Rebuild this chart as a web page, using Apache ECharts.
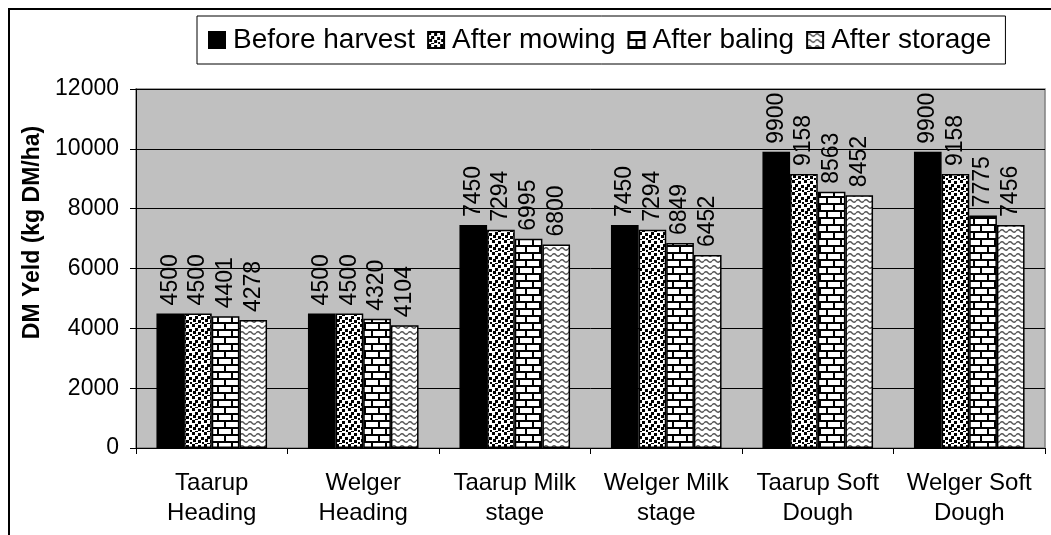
<!DOCTYPE html>
<html>
<head>
<meta charset="utf-8">
<script src="https://cdn.jsdelivr.net/npm/echarts@6/dist/echarts.min.js"></script>
<style>
html,body{margin:0;padding:0;background:#fff;}
#chart{width:1051px;height:535px;}
</style>
</head>
<body>
<div id="chart"></div>
<script>
const categories = ['Taarup\nHeading','Welger\nHeading','Taarup Milk\nstage','Welger Milk\nstage','Taarup Soft\nDough','Welger Soft\nDough'];
const seriesNames = ['Before harvest','After mowing','After baling','After storage'];
const beforeHarvest = [4500,4500,7450,7450,9900,9900];
const afterMowing = [4500,4500,7294,7294,9158,9158];
const afterBaling = [4401,4320,6995,6849,8563,7775];
const afterStorage = [4278,4104,6800,6452,8452,7456];
const yTicks = [0,2000,4000,6000,8000,10000,12000];

function mk(w,h,draw){const c=document.createElement('canvas');c.width=w;c.height=h;const g=c.getContext('2d');g.fillStyle='#fff';g.fillRect(0,0,w,h);draw(g);return c;}
const dots = mk(12,12,g=>{g.fillStyle='#000';
  [[0,0],[6,1],[3,4],[9,5],[1,7],[6,8],[10,10],[3,11]].forEach(p=>g.fillRect(p[0],p[1],3,3));});
const brick = mk(14,14,g=>{g.fillStyle='#000';
  g.fillRect(0,0,14,2);g.fillRect(0,7,14,2);g.fillRect(0,0,2,7);g.fillRect(7,7,2,7);});
const wave = mk(8,6,g=>{g.strokeStyle='#555';g.lineWidth=1.3;g.beginPath();
  g.moveTo(0,3);g.quadraticCurveTo(2,0.5,4,3);g.quadraticCurveTo(6,5.5,8,3);g.stroke();});

const fills = ['#000',{image:dots,repeat:'repeat'},{image:brick,repeat:'repeat'},{image:wave,repeat:'repeat'}];
const datas = [beforeHarvest,afterMowing,afterBaling,afterStorage];
const font = 'Liberation Sans, Arial, sans-serif';

const chart = echarts.init(document.getElementById('chart'),null,{renderer:'canvas'});
chart.setOption({
  animation:false,
  backgroundColor:'#fff',
  graphic:[{type:'rect',shape:{x:9,y:9,width:1060,height:600},style:{fill:'none',stroke:'#000',lineWidth:2},z:-1}],
  legend:{
    left:197, top:16, padding:[10,14,10,11],
    borderColor:'#000', borderWidth:1, backgroundColor:'#fff',
    icon:'rect', itemWidth:16, itemHeight:16, itemGap:12,
    textStyle:{fontFamily:font,fontSize:28,color:'#000',padding:[0,0,0,3]},
    data:seriesNames
  },
  grid:{left:136,right:6,top:89,bottom:87,show:true,backgroundColor:'#c0c0c0',borderColor:'#808080',borderWidth:1.5},
  xAxis:{
    type:'category', data:categories,
    axisLine:{show:true,lineStyle:{color:'#000',width:1}},
    axisTick:{show:true,length:6,lineStyle:{color:'#000'}},
    axisLabel:{fontFamily:font,fontSize:24,color:'#000',lineHeight:30,margin:20,interval:0}
  },
  yAxis:{
    type:'value', min:0, max:12000, interval:2000,
    name:'DM Yeld (kg DM/ha)', nameLocation:'middle', nameGap:92,
    nameTextStyle:{fontFamily:font,fontSize:23,fontWeight:'bold',color:'#000',padding:[0,0,0,72]},
    axisLine:{show:true,lineStyle:{color:'#000',width:1}},
    axisTick:{show:true,length:6,lineStyle:{color:'#000'}},
    axisLabel:{fontFamily:font,fontSize:23,color:'#000',margin:17,formatter:v=>String(v)},
    splitLine:{show:true,lineStyle:{color:'#000',width:1}}
  },
  series: seriesNames.map((n,i)=>({
    name:n, type:'bar', data:datas[i], barGap:'0%', barCategoryGap:'27%',
    itemStyle:{color:fills[i],borderColor:'#000',borderWidth:1.5},
    label:{show:true,position:'top',rotate:90,align:'left',verticalAlign:'middle',distance:8,
      fontFamily:font,fontSize:23,color:'#000'}
  }))
});
</script>
</body>
</html>
